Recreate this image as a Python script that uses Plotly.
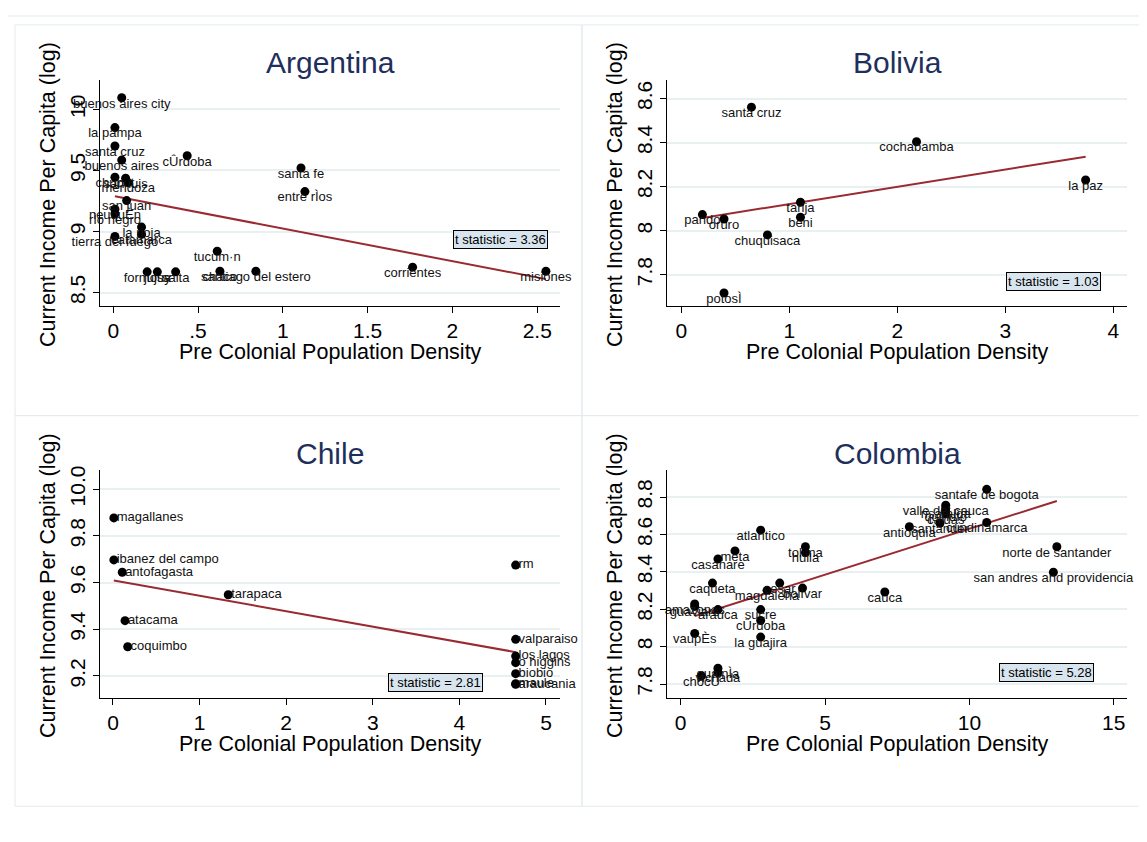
import plotly.graph_objects as go

W, H = 1147, 842

# ---------------- data ----------------
arg_names = ["buenos aires city", "la pampa", "santa cruz", "cÛrdoba", "buenos aires", "chubut",
             "san luis", "mendoza", "san juan", "neuquÈn", "rÌo negro", "la rioja", "catamarca",
             "tierra del fuego", "tucum·n", "formosa", "jujuy", "salta", "chaco",
             "santiago del estero", "santa fe", "entre rÌos", "corrientes", "misiones"]
arg_x = [0.05, 0.01, 0.01, 0.436, 0.05, 0.01, 0.073, 0.088, 0.079, 0.01, 0.01, 0.167, 0.167,
         0.01, 0.613, 0.20, 0.26, 0.368, 0.629, 0.841, 1.107, 1.13, 1.765, 2.551]
arg_y = [10.095, 9.851, 9.70, 9.62, 9.585, 9.444, 9.436, 9.40, 9.253, 9.183, 9.145, 9.036, 8.977,
         8.96, 8.838, 8.67, 8.67, 8.67, 8.675, 8.675, 9.52, 9.327, 8.708, 8.675]
arg_fit_x = [0.01, 2.551]
arg_fit_y = [9.289, 8.61]
arg_t = "t statistic = 3.36"

bol_names = ["santa cruz", "cochabamba", "la paz", "tarija", "beni", "pando", "oruro",
             "chuquisaca", "potosÌ"]
bol_x = [0.649, 2.178, 3.744, 1.103, 1.103, 0.195, 0.395, 0.797, 0.395]
bol_y = [8.561, 8.404, 8.230, 8.129, 8.061, 8.073, 8.053, 7.981, 7.717]
bol_fit_x = [0.195, 3.744]
bol_fit_y = [8.058, 8.336]
bol_t = "t statistic = 1.03"

chl_names = ["magallanes", "ibanez del campo", "antofagasta", "tarapaca", "atacama", "coquimbo",
             "rm", "valparaiso", "los lagos", "o higgins", "biobio", "maule", "araucania"]
chl_x = [0.01, 0.01, 0.107, 1.331, 0.139, 0.17, 4.65, 4.65, 4.65, 4.65, 4.65, 4.65, 4.65]
chl_y = [9.877, 9.697, 9.644, 9.548, 9.437, 9.325, 9.675, 9.357, 9.285, 9.257, 9.21, 9.167, 9.164]
chl_fit_x = [0.01, 4.65]
chl_fit_y = [9.609, 9.302]
chl_t = "t statistic = 2.81"

col_names = ["santafe de bogota", "valle del cauca", "risaralda", "quindÌo", "caldas", "santander",
             "cundinamarca", "antioquia", "norte de santander", "san andres and providencia",
             "cauca", "atlantico", "meta", "casanare", "tolima", "huila", "caqueta", "cesar",
             "magdalena", "bolÌvar", "amazonas", "guaviare", "arauca", "sucre", "cÛrdoba",
             "la guajira", "vaupÈs", "guainÌa", "vichada", "chocÛ"]
col_x = [10.6, 9.18, 9.18, 9.18, 9.18, 8.98, 10.6, 7.92, 13.03, 12.91, 7.07, 2.77, 1.88, 1.29,
         4.32, 4.32, 1.10, 3.43, 2.99, 4.22, 0.485, 0.485, 1.29, 2.77, 2.77, 2.77, 0.485, 1.29,
         1.29, 0.72]
col_y = [8.841, 8.756, 8.74, 8.725, 8.71, 8.66, 8.664, 8.641, 8.534, 8.398, 8.292, 8.623, 8.512,
         8.469, 8.534, 8.503, 8.340, 8.340, 8.301, 8.313, 8.228, 8.215, 8.198, 8.198, 8.14,
         8.051, 8.071, 7.885, 7.862, 7.844]
col_fit_x = [0.485, 13.03]
col_fit_y = [8.163, 8.779]
col_t = "t statistic = 5.28"

arg_xticks = [0, 0.5, 1, 1.5, 2, 2.5]
arg_xtext = ["0", ".5", "1", "1.5", "2", "2.5"]
arg_yticks = [8.5, 9, 9.5, 10]
arg_ytext = ["8.5", "9", "9.5", "10"]
bol_xticks = [0, 1, 2, 3, 4]
bol_yticks = [7.8, 8, 8.2, 8.4, 8.6]
bol_ytext = ["7.8", "8", "8.2", "8.4", "8.6"]
chl_xticks = [0, 1, 2, 3, 4, 5]
chl_yticks = [9.2, 9.4, 9.6, 9.8, 10.0]
chl_ytext = ["9.2", "9.4", "9.6", "9.8", "10.0"]
col_xticks = [0, 5, 10, 15]
col_yticks = [7.8, 8, 8.2, 8.4, 8.6, 8.8]
col_ytext = ["7.8", "8", "8.2", "8.4", "8.6", "8.8"]

# ---------------- layout helpers ----------------
OX, OY = 8, 8  # page margin of the html body


def px(x):
    return (x - OX) / W


def py(y):
    return 1 - (y - OY) / H


FONT = "Liberation Sans, Arial, Helvetica, sans-serif"
TITLE_COL = "#1f2f5c"
FIT_COL = "#9a2a32"
GRID_COL = "#e8f0f2"
FRAME_COL = "#e3eaed"

panels = [
    dict(name="Argentina", names=arg_names, x=arg_x, y=arg_y, fx=arg_fit_x, fy=arg_fit_y, t=arg_t,
         xt=arg_xticks, xtt=arg_xtext, yt=arg_yticks, ytt=arg_ytext,
         xr=[-0.078, 2.634], yr=[8.388, 10.244], box=(500.5, 235.7), pos="bottom center",
         plot=(100, 560, 75, 303)),
    dict(name="Bolivia", names=bol_names, x=bol_x, y=bol_y, fx=bol_fit_x, fy=bol_fit_y, t=bol_t,
         xt=bol_xticks, xtt=[str(v) for v in bol_xticks], yt=bol_yticks, ytt=bol_ytext,
         xr=[-0.133, 4.127], yr=[7.657, 8.686], box=(1053.3, 277.8), pos="bottom center",
         plot=(667, 1127, 75, 303)),
    dict(name="Chile", names=chl_names, x=chl_x, y=chl_y, fx=chl_fit_x, fy=chl_fit_y, t=chl_t,
         xt=chl_xticks, xtt=[str(v) for v in chl_xticks], yt=chl_yticks, ytt=chl_ytext,
         xr=[-0.15, 5.162], yr=[9.106, 10.081], box=(435, 682), pos="middle right",
         plot=(100, 560, 468, 697)),
    dict(name="Colombia", names=col_names, x=col_x, y=col_y, fx=col_fit_x, fy=col_fit_y, t=col_t,
         xt=col_xticks, xtt=[str(v) for v in col_xticks], yt=col_yticks, ytt=col_ytext,
         xr=[-0.475, 15.46], yr=[7.726, 8.943], box=(1046, 671.7), pos="bottom center",
         plot=(667, 1127, 468, 697)),
]

fig = go.Figure()
annotations = []
shapes = []

# frames
shapes.append(dict(type="rect", xref="paper", yref="paper", x0=px(7), x1=px(1170), y0=py(870),
                   y1=py(11), line=dict(color=FRAME_COL, width=1), layer="below"))
for (x0, y0, x1, y1) in [(15, 20, 582, 413), (582, 20, 1170, 413), (15, 413, 582, 806),
                         (582, 413, 1170, 806)]:
    shapes.append(dict(type="rect", xref="paper", yref="paper", x0=px(x0), x1=px(x1),
                       y0=py(y1), y1=py(y0), line=dict(color=FRAME_COL, width=1), layer="below"))

for i, p in enumerate(panels, start=1):
    xa = "x" if i == 1 else f"x{i}"
    ya = "y" if i == 1 else f"y{i}"
    l, r, t, b = p["plot"]
    fig.add_trace(go.Scatter(
        x=p["fx"], y=p["fy"], mode="lines", line=dict(color=FIT_COL, width=2),
        xaxis=xa, yaxis=ya, showlegend=False, hoverinfo="skip"))
    fig.add_trace(go.Scatter(
        x=p["x"], y=p["y"], mode="markers", marker=dict(color="black", size=9),
        xaxis=xa, yaxis=ya, showlegend=False, cliponaxis=False, hoverinfo="skip"))
    if p["pos"] == "middle right":
        # small invisible marker gives the label a little gap to the right of the dot
        fig.add_trace(go.Scatter(
            x=p["x"], y=p["y"], mode="markers+text", text=p["names"], textposition=p["pos"],
            marker=dict(size=3, opacity=0),
            textfont=dict(family=FONT, size=13, color="#111111"),
            xaxis=xa, yaxis=ya, showlegend=False, cliponaxis=False, hoverinfo="skip"))
    else:
        fig.add_trace(go.Scatter(
            x=p["x"], y=p["y"], mode="text", text=p["names"], textposition=p["pos"],
            textfont=dict(family=FONT, size=13, color="#111111"),
            xaxis=xa, yaxis=ya, showlegend=False, cliponaxis=False, hoverinfo="skip"))
    axkw = dict(showline=True, linecolor="black", linewidth=1, ticks="outside", ticklen=6,
                tickcolor="black", tickfont=dict(family=FONT, size=21, color="black"),
                zeroline=False, mirror=False)
    fig.layout[f"xaxis{'' if i == 1 else i}"] = dict(
        axkw, domain=[px(l), px(r)], anchor=ya, range=p["xr"], tickvals=p["xt"],
        ticktext=p["xtt"], showgrid=False)
    fig.layout[f"yaxis{'' if i == 1 else i}"] = dict(
        axkw, domain=[py(b), py(t)], anchor=xa, range=p["yr"], tickvals=p["yt"],
        ticktext=p["ytt"], tickangle=-90, showgrid=True, gridcolor=GRID_COL, gridwidth=2)
    # panel title
    annotations.append(dict(text=p["name"], x=px((l + r) / 2), y=py(t - 17), xref="paper",
                            yref="paper", showarrow=False, xanchor="center", yanchor="middle",
                            font=dict(family=FONT, size=30, color=TITLE_COL)))
    # axis titles
    annotations.append(dict(text="Pre Colonial Population Density", x=px((l + r) / 2),
                            y=py(b + 46), xref="paper", yref="paper", showarrow=False,
                            xanchor="center", yanchor="middle",
                            font=dict(family=FONT, size=21.5, color="black")))
    annotations.append(dict(text="Current Income Per Capita (log)", x=px(l - 52),
                            y=py((t + b) / 2 + 2), xref="paper", yref="paper", showarrow=False,
                            textangle=-90, xanchor="center", yanchor="middle",
                            font=dict(family=FONT, size=21.5, color="black")))
    # t-statistic box
    bx, by = p["box"]
    annotations.append(dict(text=p["t"], x=px(bx), y=py(by), xref="paper", yref="paper",
                            showarrow=False, xanchor="center", yanchor="middle",
                            bgcolor="#d8e5ee", bordercolor="black", borderwidth=1, borderpad=1,
                            font=dict(family=FONT, size=13, color="black")))

fig.update_layout(width=W, height=H, margin=dict(l=0, r=0, t=0, b=0),
                  paper_bgcolor="white", plot_bgcolor="white",
                  annotations=annotations, shapes=shapes, font=dict(family=FONT))

fig.write_html("out.html")
